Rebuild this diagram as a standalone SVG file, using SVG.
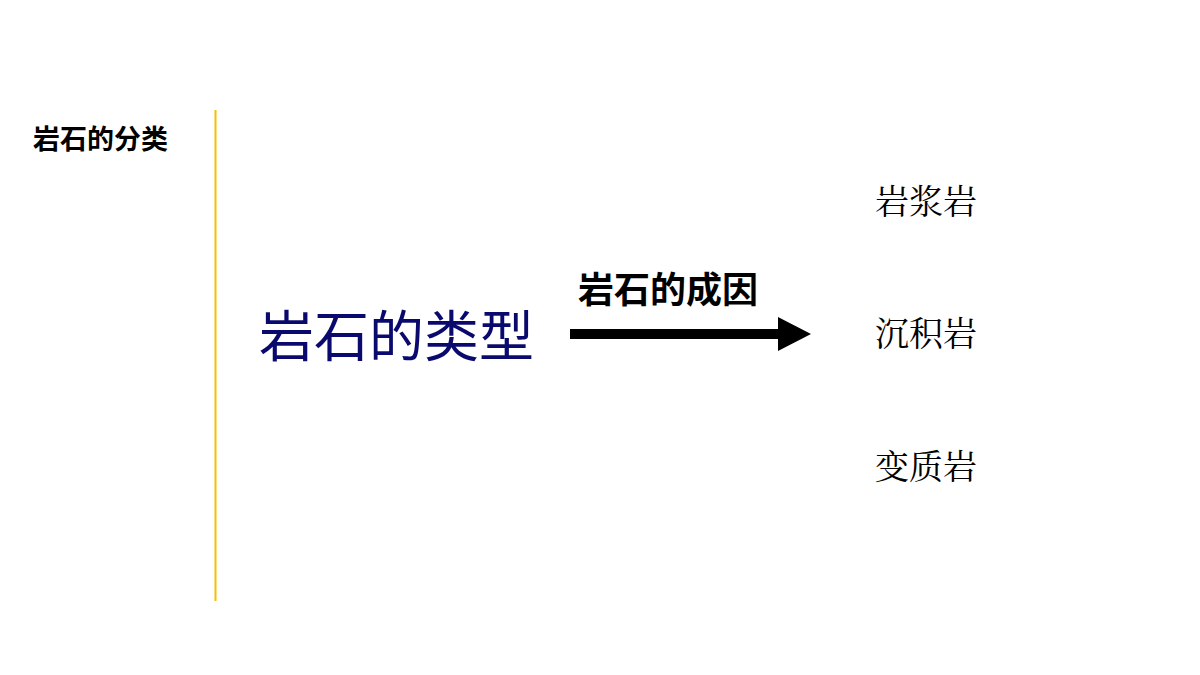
<svg xmlns="http://www.w3.org/2000/svg" width="1200" height="675" viewBox="0 0 1200 675">
<style>
.s{font-family:"Noto Sans CJK SC","Liberation Sans",sans-serif}
.r{font-family:"Noto Serif CJK SC","Noto Sans CJK SC",serif;font-size:34px;fill:#000}
</style>
<rect width="1200" height="675" fill="#fff"/>
<g id="title"><text class="s" x="33" y="149" font-size="27" font-weight="bold">岩石的分类</text></g>
<line x1="215.5" y1="110" x2="215.5" y2="601" stroke="#f5c000" stroke-width="2"/>
<g id="types"><text class="s" x="259" y="356" font-size="55" fill="#0a0a6e">岩石的类型</text></g>
<g id="connectors">
<line x1="570" y1="334" x2="780" y2="334" stroke="#000" stroke-width="10"/>
<polygon points="778,317 811,334 778,351" fill="#000"/>
<text class="s" x="578" y="303" font-size="36" font-weight="bold">岩石的成因</text>
</g>
<g id="n1"><text class="r" x="875" y="214">岩浆岩</text></g>
<g id="n2"><text class="r" x="875" y="346">沉积岩</text></g>
<g id="n3"><text class="r" x="875" y="479">变质岩</text></g>
</svg>
